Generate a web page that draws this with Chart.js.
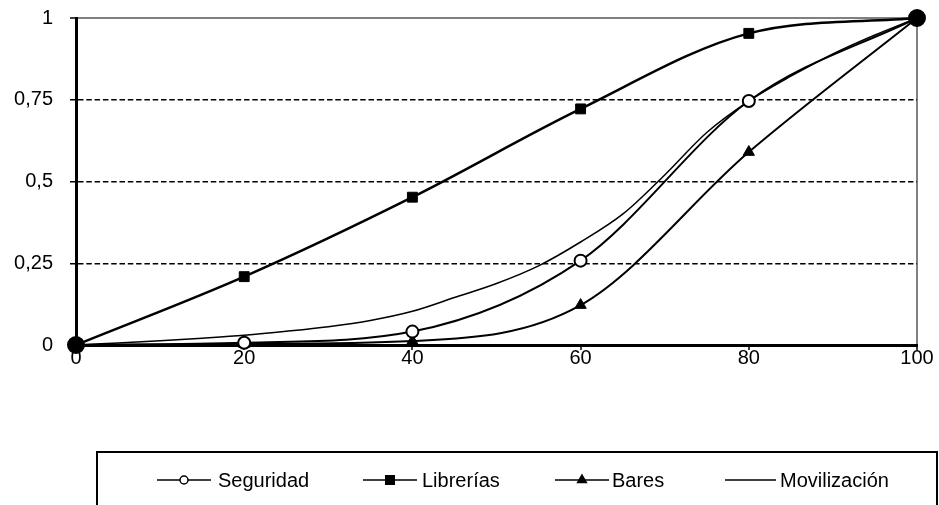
<!DOCTYPE html>
<html>
<head>
<meta charset="utf-8">
<script src="https://cdn.jsdelivr.net/npm/chart.js@4"></script>
<style>
  body { margin: 0; background: #fff; }
  #wrap { position: relative; width: 939px; height: 505px; }
</style>
</head>
<body>
<div id="wrap"><canvas id="chart0"></canvas></div>
<script>
// values
const xValues = [0, 20, 40, 60, 80, 100];
const seguridad = [0, 0.007, 0.041, 0.258, 0.746, 1];
const librerias = [0, 0.209, 0.452, 0.722, 0.953, 1];
const bares = [0, 0.003, 0.012, 0.122, 0.59, 1];
const movX = [0, 5, 10, 15, 20, 25, 30, 35, 40, 45, 50, 55, 60, 65, 70, 75, 80, 85, 90, 95, 100];
const movilizacion = [0, 0.006, 0.013, 0.021, 0.03, 0.042, 0.056, 0.075, 0.103, 0.145, 0.188, 0.242, 0.315, 0.4, 0.52, 0.65, 0.746, 0.822, 0.89, 0.948, 1];
const yTicks = [0, 0.25, 0.5, 0.75, 1];
const seriesNames = ['Seguridad', 'Librerías', 'Bares', 'Movilización'];

const FONT = "'Liberation Sans', Arial, sans-serif";
Chart.defaults.font.family = FONT;
Chart.defaults.color = '#000';

function pts(xs, ys)
{
  return xs.map((x, i) => ({x: x, y: ys[i]}));
}

// end points show as one big black dot
function endRadius(r)
{
  return (ctx) => (ctx.dataIndex === 0 || ctx.dataIndex === ctx.dataset.data.length - 1) ? 8 : r;
}

const legendPos = [
  {line: 157, len: 54, text: 218},
  {line: 363, len: 54, text: 422},
  {line: 555, len: 54, text: 612},
  {line: 725, len: 51, text: 780}
];

const boxLegend = {
  id: 'boxLegend',
  afterDraw(chart)
  {
    const ctx = chart.ctx;
    ctx.save();
    ctx.strokeStyle = '#000';
    ctx.lineWidth = 2;
    ctx.strokeRect(97, 452, 840, 70);
    ctx.font = '20px ' + FONT;
    ctx.textBaseline = 'middle';
    const y = 480;
    chart.data.datasets.forEach((ds, i) =>
    {
      const p = legendPos[i];
      ctx.lineWidth = 1.5;
      ctx.strokeStyle = '#000';
      ctx.beginPath();
      ctx.moveTo(p.line, y);
      ctx.lineTo(p.line + p.len, y);
      ctx.stroke();
      if (ds.legendRadius)
      {
        ctx.fillStyle = ds.legendFill;
        Chart.helpers.drawPoint(ctx, {pointStyle: ds.pointStyle, radius: ds.legendRadius, rotation: 0, borderWidth: 1.5}, p.line + p.len / 2, y);
      }
      ctx.fillStyle = '#000';
      ctx.textAlign = 'left';
      ctx.fillText(ds.label, p.text, y + 1);
    });
    ctx.restore();
  }
};

new Chart(document.getElementById('chart0'),
{
  type: 'line',
  data: {
    datasets: [
      {
        label: seriesNames[0],
        data: pts(xValues, seguridad),
        borderColor: '#000',
        borderWidth: 2,
        pointStyle: 'circle',
        pointRadius: endRadius(6),
        pointBorderWidth: 2,
        pointBorderColor: '#000',
        pointBackgroundColor: (ctx) => (ctx.dataIndex === 0 || ctx.dataIndex === 5) ? '#000' : '#fff',
        cubicInterpolationMode: 'monotone',
        clip: false,
        legendRadius: 4,
        legendFill: '#fff'
      },
      {
        label: seriesNames[1],
        data: pts(xValues, librerias),
        borderColor: '#000',
        borderWidth: 2.5,
        pointStyle: 'rect',
        pointRadius: 7,
        pointBorderWidth: 1,
        pointBorderColor: '#000',
        pointBackgroundColor: '#000',
        cubicInterpolationMode: 'monotone',
        clip: false,
        legendRadius: 6,
        legendFill: '#000'
      },
      {
        label: seriesNames[2],
        data: pts(xValues, bares),
        borderColor: '#000',
        borderWidth: 2,
        pointStyle: 'triangle',
        pointRadius: 6.5,
        pointBorderWidth: 1,
        pointBorderColor: '#000',
        pointBackgroundColor: '#000',
        cubicInterpolationMode: 'monotone',
        clip: false,
        legendRadius: 5,
        legendFill: '#000'
      },
      {
        label: seriesNames[3],
        data: pts(movX, movilizacion),
        borderColor: '#000',
        borderWidth: 1.5,
        pointRadius: 0,
        cubicInterpolationMode: 'monotone'
      }
    ]
  },
  options: {
    responsive: true,
    maintainAspectRatio: false,
    animation: false,
    devicePixelRatio: 1,
    layout: {padding: {top: 18, right: 22, left: 0, bottom: 0}},
    plugins: {legend: {display: false}, tooltip: {enabled: false}},
    scales: {
      x: {
        type: 'linear',
        min: 0,
        max: 100,
        afterFit: (s) => { s.height = 160; s.paddingLeft = 0; s.paddingRight = 0; },
        ticks: {stepSize: 20, padding: -4, font: {size: 20}},
        grid: {
          color: (ctx) => (ctx.tick && ctx.tick.value === 100) ? '#808080' : 'rgba(0,0,0,0)',
          lineWidth: 2,
          tickColor: '#000',
          tickLength: 5,
          tickWidth: 1.5
        },
        border: {color: '#000', width: 3}
      },
      y: {
        min: 0,
        max: 1,
        afterFit: (s) => { s.width = 76; s.paddingTop = 0; s.paddingBottom = 0; },
        afterBuildTicks: (s) => { s.ticks = yTicks.map(v => ({value: v})); },
        ticks: {
          padding: 17,
          font: {size: 20},
          callback: (v) => String(v).replace('.', ',')
        },
        grid: {
          color: (ctx) => (ctx.tick && ctx.tick.value === 1) ? '#808080' : (ctx.tick && ctx.tick.value === 0 ? 'rgba(0,0,0,0)' : '#000'),
          lineWidth: (ctx) => (ctx.tick && ctx.tick.value === 1) ? 2 : 1.5,
          tickColor: '#000',
          tickLength: 6,
          tickWidth: 1.5
        },
        border: {
          color: '#000',
          width: 3,
          dash: (ctx) => (ctx.tick && ctx.tick.value > 0 && ctx.tick.value < 1) ? [5.5, 2.8] : []
        }
      }
    }
  },
  plugins: [boxLegend]
});
</script>
</body>
</html>
